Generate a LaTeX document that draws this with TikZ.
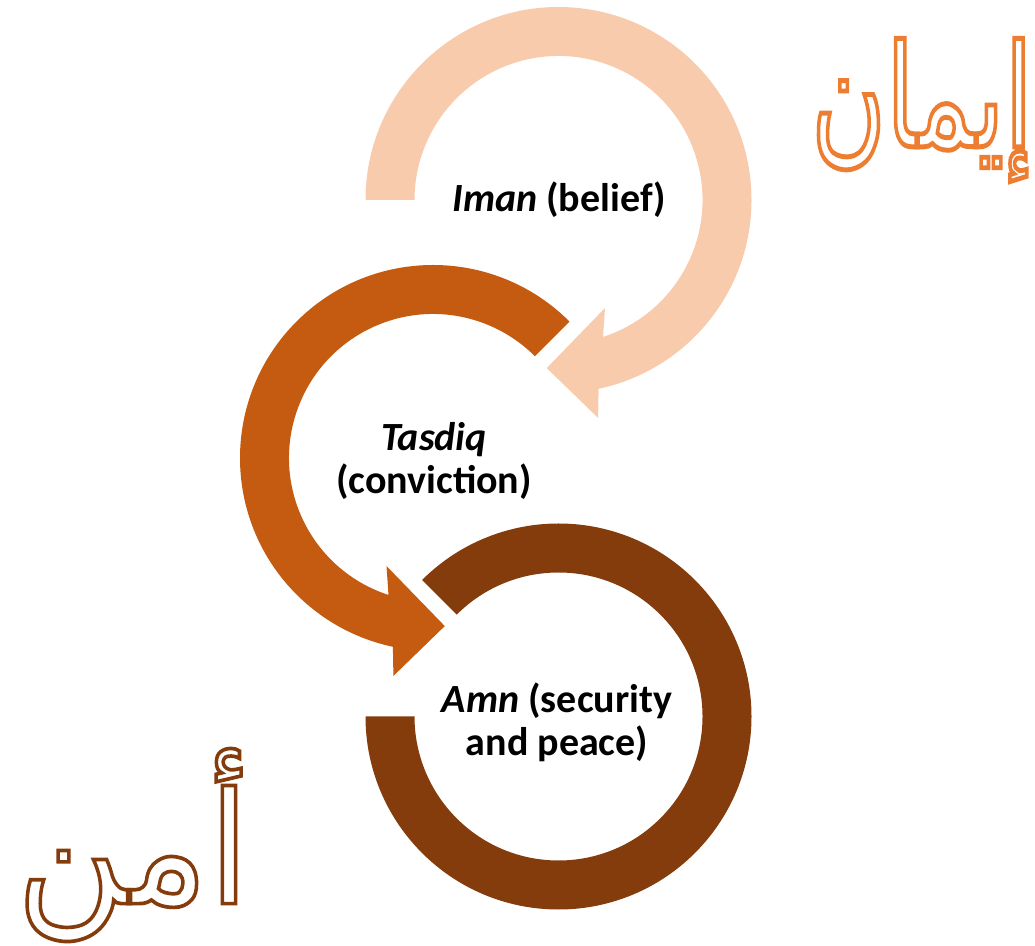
\documentclass[tikz,border=0pt]{standalone}
\usepackage{fontspec}
\setmainfont{Carlito}
\newfontfamily\arabicfont[Script=Arabic]{DejaVu Sans}
\TeXXeTstate=1
\usetikzlibrary{calc}
\definecolor{peach}{HTML}{F8CBAD}
\definecolor{orangeA}{HTML}{C55A11}
\definecolor{brownA}{HTML}{843C0C}
\definecolor{arOrange}{HTML}{ED7D31}
\newcommand{\outl}[2]{\special{pdf:literal direct 1 Tr #1 w}#2\special{pdf:literal direct 0 Tr 0.4 w}}
\begin{document}
\begin{tikzpicture}[x=1pt,y=1pt,
  lbl/.style={font=\fontsize{40}{43}\selectfont\bfseries, align=center, text=black, inner sep=0pt},
  arlbl/.style={font=\arabicfont, inner sep=0pt}]
\useasboundingbox (0,0) rectangle (1035,945);
\coordinate (cp) at (558.5,745);
\coordinate (co) at (433,487);
\coordinate (cb) at (558.5,228.5);
% brown ring
\fill[brownA] ($(cb)+(180:193pt)$) arc[start angle=180,end angle=495,radius=193pt]
  -- ($(cb)+(135:144pt)$) arc[start angle=495,end angle=180,radius=144pt] -- cycle;
% orange arrow
\fill[orangeA] ($(co)+(45:193pt)$) arc[start angle=45,end angle=258,radius=193pt]
  -- ($(co)+(259.7:221.5pt)$) -- ($(co)+(274:168.5pt)$) -- ($(co)+(246.7:117.6pt)$)
  -- ($(co)+(252:144pt)$) arc[start angle=252,end angle=45,radius=144pt] -- cycle;
% peach arrow
\fill[peach] ($(cp)+(180:193pt)$) arc[start angle=180,end angle=-78,radius=193pt]
  -- ($(cp)+(-79.7:221.5pt)$) -- ($(cp)+(-94:168.5pt)$) -- ($(cp)+(-66.7:117.6pt)$)
  -- ($(cp)+(-72:144pt)$) arc[start angle=-72,end angle=180,radius=144pt] -- cycle;
% labels
\node[lbl, anchor=base] (iman) at (559,733) {\textit{Iman} (belief)};
\node[lbl] (tasdiq) at (434,484) {\textit{Tasdiq}\\(conviction)};
\node[lbl] (amn) at (557,223) {\textit{Amn} (security\\and peace)};
% arabic words
\node[arlbl, text=arOrange] (imanar) at (922,835) {\fontsize{102}{102}\selectfont\scalebox{1}[1.4]{\outl{3.5}{\beginR إيمان\endR}}};
\node[arlbl, text=brownA] (amnar) at (133,100) {\fontsize{148}{148}\selectfont\scalebox{1}[1.05]{\outl{3.5}{\beginR أمن\endR}}};
\end{tikzpicture}
\end{document}
